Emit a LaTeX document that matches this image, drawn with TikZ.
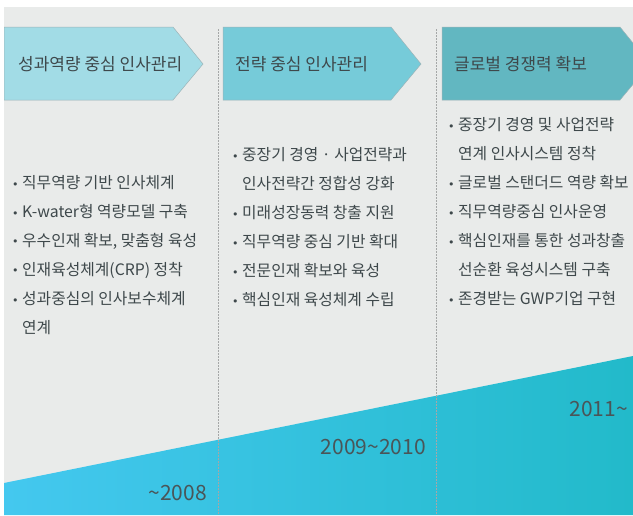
\documentclass[tikz,border=0pt]{standalone}
\usepackage{fontspec}
\setmainfont{Noto Sans CJK KR}
\newfontfamily\dvsans{DejaVu Sans}
\definecolor{bggray}{HTML}{E9EBEA}
\definecolor{arA}{HTML}{A2DCE6}
\definecolor{arB}{HTML}{76CBD9}
\definecolor{arC}{HTML}{62B7C1}
\definecolor{arEdge}{HTML}{9DB3B7}
\definecolor{txt}{HTML}{3E484B}
\definecolor{yrtxt}{HTML}{4A5558}
\definecolor{blueL}{HTML}{44C8EF}
\definecolor{blueR}{HTML}{22BACA}
\definecolor{dashc}{HTML}{A5A7A7}
\newcommand\blt{\makebox[10pt][l]{\raisebox{0.8pt}{\dvsans\fontsize{11}{11}\selectfont •}}}
\newcommand\ind{\makebox[10pt][l]{}}
\begin{document}
\begin{tikzpicture}[x=1pt,y=-1pt,
  header/.style={anchor=west,inner sep=0pt,text=txt,font=\fontsize{17}{17}\selectfont},
  item/.style={anchor=west,inner sep=0pt,text=txt,font=\fontsize{15.8}{15.8}\selectfont},
  year/.style={anchor=east,inner sep=0pt,text=yrtxt,font=\fontsize{21}{21}\selectfont},
  sep/.style={draw=dashc,line width=0.6pt,dash pattern=on 1.5pt off 1.5pt},
  arrowbox/.style={draw=arEdge,line width=0.5pt}]
\useasboundingbox (0,0) rectangle (633,515);
\fill[white] (0,0) rectangle (633,515);
\fill[bggray] (4,7) rectangle (633,515);
\begin{scope}
\clip (4,7) rectangle (633,515);
% bottom gradient band
\shade[left color=blueL,right color=blueR] (4,483) -- (633,356) -- (633,515) -- (4,515) -- cycle;
% separators
\coordinate (s1t) at (218,29); \coordinate (s1b) at (218,515);
\coordinate (s2t) at (436,29); \coordinate (s2b) at (436,515);
\draw[sep] (s1t) -- (s1b);
\draw[sep] (s2t) -- (s2b);
% header arrows
\filldraw[arrowbox,fill=arA] (4,27) -- (173,27) -- (203,64) -- (173,100) -- (4,100) -- cycle;
\filldraw[arrowbox,fill=arB] (223,27) -- (391,27) -- (421,64) -- (391,100) -- (223,100) -- cycle;
\filldraw[arrowbox,fill=arC] (442,27) -- (620,27) -- (650,64) -- (620,100) -- (442,100) -- cycle;
\end{scope}
\node[header] (h1) at (18,64) {성과역량 중심 인사관리};
\node[header] (h2) at (235,64) {전략 중심 인사관리};
\node[header] (h3) at (454,64) {글로벌 경쟁력 확보};
% column 1
\node[item] (a1) at (12,183) {\blt 직무역량 기반 인사체계};
\node[item] (a2) at (12,212) {\blt K-water형 역량모델 구축};
\node[item] (a3) at (12,241) {\blt 우수인재 확보, 맞춤형 육성};
\node[item] (a4) at (12,270) {\blt 인재육성체계(CRP) 정착};
\node[item] (a5) at (12,299) {\blt 성과중심의 인사보수체계};
\node[item] (a6) at (12,328) {\ind 연계};
% column 2
\node[item] (b1) at (232,155) {\blt 중장기 경영 · 사업전략과};
\node[item] (b2) at (232,184) {\ind 인사전략간 정합성 강화};
\node[item] (b3) at (232,213) {\blt 미래성장동력 창출 지원};
\node[item] (b4) at (232,242) {\blt 직무역량 중심 기반 확대};
\node[item] (b5) at (232,271) {\blt 전문인재 확보와 육성};
\node[item] (b6) at (232,300) {\blt 핵심인재 육성체계 수립};
% column 3
\node[item] (c1) at (448,125) {\blt 중장기 경영 및 사업전략};
\node[item] (c2) at (448,154) {\ind 연계 인사시스템 정착};
\node[item] (c3) at (448,183) {\blt 글로벌 스탠더드 역량 확보};
\node[item] (c4) at (448,212) {\blt 직무역량중심 인사운영};
\node[item] (c5) at (448,241) {\blt 핵심인재를 통한 성과창출};
\node[item] (c6) at (448,270) {\ind 선순환 육성시스템 구축};
\node[item] (c7) at (448,299) {\blt 존경받는 GWP기업 구현};
% years
\node[year] (y1) at (207,493) {\textasciitilde2008};
\node[year] (y2) at (426,447) {2009\textasciitilde2010};
\node[year] (y3) at (628,409) {2011\textasciitilde};
\end{tikzpicture}
\end{document}
